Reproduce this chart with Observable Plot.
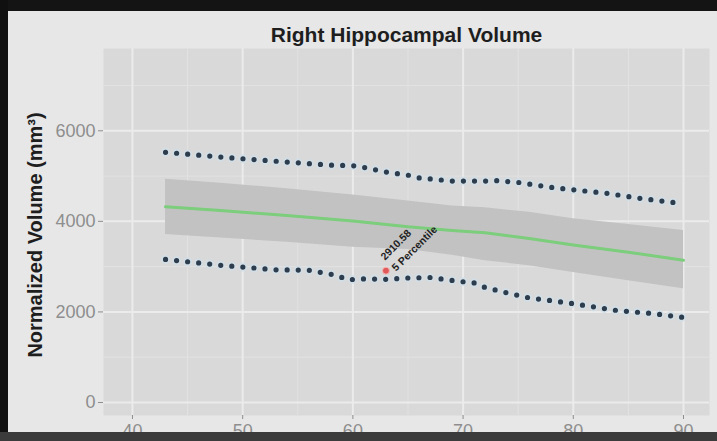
<!DOCTYPE html>
<html>
<head>
<meta charset="utf-8">
<script src="https://cdn.jsdelivr.net/npm/d3@7"></script>
<script src="https://cdn.jsdelivr.net/npm/@observablehq/plot@0.6"></script>
<style>
  html, body { margin: 0; padding: 0; background: #121212; }
  #wrap { position: relative; width: 717px; height: 441px; background: #e7e7e7; overflow: hidden;
          font-family: "Liberation Sans", Arial, sans-serif; }
  #title { height: 48px; box-sizing: border-box; padding-top: 23px; margin-left: 103px; width: 607px;
           text-align: center; font-weight: bold; font-size: 21px; line-height: 24px; color: #1e1e1e; }
  .bz { position: absolute; }
</style>
</head>
<body>
<div id="wrap">
  <div id="title">Right Hippocampal Volume</div>
  <div id="chart"></div>
  <div class="bz" style="left:0;top:0;width:717px;height:11px;background:#141414"></div>
  <div class="bz" style="left:0;top:0;width:8px;height:441px;background:#101010"></div>
  <div class="bz" style="left:0;top:432px;width:717px;height:9px;background:#3b3b3b"></div>
</div>
<script>
// ---- data ----
const yTitle = "Normalized Volume (mm\u00B3)";
const xTicks = [40, 50, 60, 70, 80, 90];
const xMinor = [45, 55, 65, 75, 85];
const yTicks = [0, 2000, 4000, 6000];
const yMinor = [1000, 3000, 5000, 7000];

// mean trend and its grey band
const bandAge  = [43, 48, 54, 60, 65, 69, 72, 76, 80, 85, 90];
const bandHigh = [4930, 4840, 4720, 4580, 4450, 4340, 4300, 4200, 4060, 3930, 3800];
const bandLow  = [3710, 3630, 3540, 3430, 3380, 3250, 3130, 3020, 2870, 2690, 2510];
const meanVol  = [4320, 4240, 4130, 4010, 3880, 3800, 3750, 3620, 3480, 3320, 3140];

// 95th percentile (upper dotted)
const p95Age = [43, 48, 54, 58, 60, 61, 63, 65, 66, 69, 72, 73, 75, 78, 83, 86, 90];
const p95Vol = [5525, 5420, 5310, 5240, 5230, 5190, 5090, 5020, 4960, 4890, 4890, 4900, 4860, 4750, 4620, 4510, 4390];

// 5th percentile (lower dotted)
const p5Age = [43, 48, 53, 56, 58.5, 59.5, 61, 63, 65, 67, 69.5, 71, 72, 74, 76, 78, 79.5, 84, 87, 90];
const p5Vol = [3160, 3030, 2930, 2920, 2810, 2710, 2730, 2720, 2750, 2760, 2680, 2640, 2540, 2420, 2310, 2250, 2200, 2030, 1970, 1880];

// subject point
const subjectAge = [63];
const subjectVol = [2910.58];
const subjectLabel = ["2910.58\n5 Percentile"];

// ---- tables ----
const band = bandAge.map((a, i) => ({age: a, lo: bandLow[i], hi: bandHigh[i], mean: meanVol[i]}));
const p95 = p95Age.map((a, i) => ({age: a, v: p95Vol[i]}));
const p5 = p5Age.map((a, i) => ({age: a, v: p5Vol[i]}));
const subject = subjectAge.map((a, i) => ({age: a, v: subjectVol[i], label: subjectLabel[i]}));

const dotted = {x: "age", y: "v", stroke: "#2e3d4d", strokeWidth: 5.2, strokeLinecap: "round", strokeDasharray: "0,11.1"};
const halo = {x: "age", y: "v", stroke: "#cfdfe9", strokeWidth: 9, strokeLinecap: "round", strokeDasharray: "0,11.1", strokeOpacity: 0.8};

const chart = Plot.plot({
  width: 717,
  height: 393,
  marginTop: 0,
  marginBottom: 26,
  marginLeft: 103,
  marginRight: 8,
  style: {background: "transparent", fontFamily: "Liberation Sans, Arial, sans-serif", overflow: "visible"},
  x: {domain: [37.37, 92.36], label: null},
  y: {domain: [-287, 7817], label: null},
  marks: [
    Plot.frame({fill: "#d9d9d9", stroke: null}),
    Plot.gridX(xMinor, {stroke: "#e2e2e2", strokeWidth: 1, strokeOpacity: 1}),
    Plot.gridY(yMinor, {stroke: "#e2e2e2", strokeWidth: 1, strokeOpacity: 1}),
    Plot.gridX(xTicks, {stroke: "#ebebeb", strokeWidth: 2, strokeOpacity: 1}),
    Plot.gridY(yTicks, {stroke: "#ebebeb", strokeWidth: 2, strokeOpacity: 1}),
    Plot.areaY(band, {x: "age", y1: "lo", y2: "hi", fill: "#c2c2c2"}),
    Plot.line(band, {x: "age", y: "mean", stroke: "#7ccd7c", strokeWidth: 3}),
    Plot.line(p95, halo),
    Plot.line(p5, halo),
    Plot.line(p95, dotted),
    Plot.line(p5, dotted),
    Plot.dot(subject, {x: "age", y: "v", r: 3.5, fill: "#e2595a", stroke: "#f3b9b9", strokeWidth: 1}),
    Plot.text(subject, {x: "age", y: "v", text: "label", rotate: -45, textAnchor: "start",
      lineHeight: 1.5, fontSize: 10.5, fontWeight: "bold", fill: "#1f1f1f", dx: 1, dy: -8}),
    Plot.axisX(xTicks, {tickSize: 4, tickPadding: 5, fontSize: 18, color: "#8e8e8e", tickFormat: d => String(d), label: null}),
    Plot.axisY(yTicks, {tickSize: 5, tickPadding: 3, fontSize: 18, color: "#8e8e8e", tickFormat: d => String(d), label: null}),
    Plot.text([yTitle], {frameAnchor: "left", rotate: -90, textAnchor: "middle", dx: -68, dy: 3,
      fontSize: 20, fontWeight: "bold", fill: "#1e1e1e"})
  ]
});
document.getElementById("chart").appendChild(chart);
</script>
</body>
</html>
